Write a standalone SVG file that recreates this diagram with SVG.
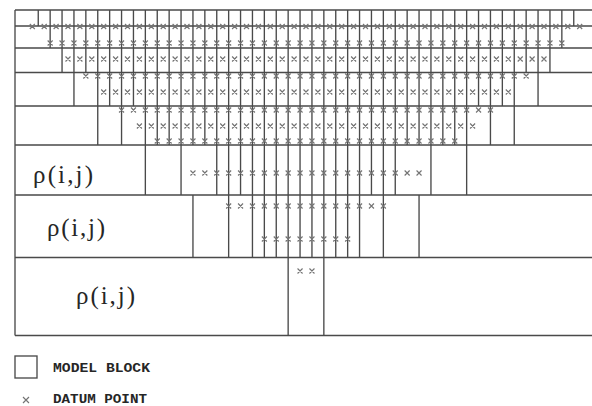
<svg xmlns="http://www.w3.org/2000/svg" width="592" height="406" viewBox="0 0 592 406">
<style>
.ln{fill:none;stroke:#4a4a4a;stroke-width:1.35}
.dp{fill:none;stroke:#747474;stroke-width:1.15}
.rho{font-family:"Liberation Serif","Times New Roman",serif;font-size:25px;fill:#262626}
.lg{font-family:"Liberation Mono","Courier New",monospace;font-size:12.5px;font-weight:bold;fill:#262626}
</style>
<rect width="592" height="406" fill="#ffffff"/>
<g id="grid" class="ln">
<path d="M15,10H592M15,26H592M15,48H592M15,72.5H592M15,106H592M15,145H592M15,195H592M15,257.5H592M15,335.5H592M15,10V335.5"/>
<path d="M38.25,10V26 M50.15,10V48 M62.05,10V72.5 M73.95,10V106 M85.85,10V72.5 M97.75,10V145 M109.65,10V106 M121.55,10V145 M133.45,10V106 M145.35,10V195 M157.25,10V145 M169.15,10V145 M181.05,10V195 M192.95,10V145 M192.95,195V257.5 M204.85,10V145 M216.75,10V195 M228.65,10V257.5 M240.55,10V195 M252.45,10V257.5 M264.35,10V257.5 M276.25,10V257.5 M288.15,10V335.5 M300.05,10V257.5 M311.95,10V257.5 M323.85,10V335.5 M335.75,10V257.5 M347.65,10V257.5 M359.55,10V257.5 M371.45,10V195 M383.35,10V257.5 M395.25,10V195 M407.15,10V145 M419.05,10V145 M419.05,195V257.5 M430.95,10V195 M442.85,10V145 M454.75,10V145 M466.65,10V195 M478.55,10V106 M490.45,10V145 M502.35,10V106 M514.25,10V145 M526.15,10V72.5 M538.05,10V106 M549.95,10V72.5 M561.85,10V48 M573.75,10V26"/>
</g>
<g id="datum-points" class="dp">
<path id="level1" d="M29.8,24
l5,5m0,-5l-5,5m11.9,-5 l5,5m0,-5l-5,5m11.9,-5 l5,5m0,-5l-5,5m11.9,-5 l5,5m0,-5l-5,5m11.9,-5 l5,5m0,-5l-5,5m11.9,-5
l5,5m0,-5l-5,5m11.9,-5 l5,5m0,-5l-5,5m11.9,-5 l5,5m0,-5l-5,5m11.9,-5 l5,5m0,-5l-5,5m11.9,-5 l5,5m0,-5l-5,5m11.9,-5
l5,5m0,-5l-5,5m11.9,-5 l5,5m0,-5l-5,5m11.9,-5 l5,5m0,-5l-5,5m11.9,-5 l5,5m0,-5l-5,5m11.9,-5 l5,5m0,-5l-5,5m11.9,-5
l5,5m0,-5l-5,5m11.9,-5 l5,5m0,-5l-5,5m11.9,-5 l5,5m0,-5l-5,5m11.9,-5 l5,5m0,-5l-5,5m11.9,-5 l5,5m0,-5l-5,5m11.9,-5
l5,5m0,-5l-5,5m11.9,-5 l5,5m0,-5l-5,5m11.9,-5 l5,5m0,-5l-5,5m11.9,-5 l5,5m0,-5l-5,5m11.9,-5 l5,5m0,-5l-5,5m11.9,-5
l5,5m0,-5l-5,5m11.9,-5 l5,5m0,-5l-5,5m11.9,-5 l5,5m0,-5l-5,5m11.9,-5 l5,5m0,-5l-5,5m11.9,-5 l5,5m0,-5l-5,5m11.9,-5
l5,5m0,-5l-5,5m11.9,-5 l5,5m0,-5l-5,5m11.9,-5 l5,5m0,-5l-5,5m11.9,-5 l5,5m0,-5l-5,5m11.9,-5 l5,5m0,-5l-5,5m11.9,-5
l5,5m0,-5l-5,5m11.9,-5 l5,5m0,-5l-5,5m11.9,-5 l5,5m0,-5l-5,5m11.9,-5 l5,5m0,-5l-5,5m11.9,-5 l5,5m0,-5l-5,5m11.9,-5
l5,5m0,-5l-5,5m11.9,-5 l5,5m0,-5l-5,5m11.9,-5 l5,5m0,-5l-5,5m11.9,-5 l5,5m0,-5l-5,5m11.9,-5 l5,5m0,-5l-5,5m11.9,-5
l5,5m0,-5l-5,5m11.9,-5 l5,5m0,-5l-5,5"/>
<path id="level2" d="M47.65,40.5
l5,5m0,-5l-5,5m11.9,-5 l5,5m0,-5l-5,5m11.9,-5 l5,5m0,-5l-5,5m11.9,-5 l5,5m0,-5l-5,5m11.9,-5 l5,5m0,-5l-5,5m11.9,-5
l5,5m0,-5l-5,5m11.9,-5 l5,5m0,-5l-5,5m11.9,-5 l5,5m0,-5l-5,5m11.9,-5 l5,5m0,-5l-5,5m11.9,-5 l5,5m0,-5l-5,5m11.9,-5
l5,5m0,-5l-5,5m11.9,-5 l5,5m0,-5l-5,5m11.9,-5 l5,5m0,-5l-5,5m11.9,-5 l5,5m0,-5l-5,5m11.9,-5 l5,5m0,-5l-5,5m11.9,-5
l5,5m0,-5l-5,5m11.9,-5 l5,5m0,-5l-5,5m11.9,-5 l5,5m0,-5l-5,5m11.9,-5 l5,5m0,-5l-5,5m11.9,-5 l5,5m0,-5l-5,5m11.9,-5
l5,5m0,-5l-5,5m11.9,-5 l5,5m0,-5l-5,5m11.9,-5 l5,5m0,-5l-5,5m11.9,-5 l5,5m0,-5l-5,5m11.9,-5 l5,5m0,-5l-5,5m11.9,-5
l5,5m0,-5l-5,5m11.9,-5 l5,5m0,-5l-5,5m11.9,-5 l5,5m0,-5l-5,5m11.9,-5 l5,5m0,-5l-5,5m11.9,-5 l5,5m0,-5l-5,5m11.9,-5
l5,5m0,-5l-5,5m11.9,-5 l5,5m0,-5l-5,5m11.9,-5 l5,5m0,-5l-5,5m11.9,-5 l5,5m0,-5l-5,5m11.9,-5 l5,5m0,-5l-5,5m11.9,-5
l5,5m0,-5l-5,5m11.9,-5 l5,5m0,-5l-5,5m11.9,-5 l5,5m0,-5l-5,5m11.9,-5 l5,5m0,-5l-5,5m11.9,-5 l5,5m0,-5l-5,5m11.9,-5
l5,5m0,-5l-5,5m11.9,-5 l5,5m0,-5l-5,5m11.9,-5 l5,5m0,-5l-5,5m11.9,-5 l5,5m0,-5l-5,5"/>
<path id="level3" d="M65.5,56.5
l5,5m0,-5l-5,5m11.9,-5 l5,5m0,-5l-5,5m11.9,-5 l5,5m0,-5l-5,5m11.9,-5 l5,5m0,-5l-5,5m11.9,-5 l5,5m0,-5l-5,5m11.9,-5
l5,5m0,-5l-5,5m11.9,-5 l5,5m0,-5l-5,5m11.9,-5 l5,5m0,-5l-5,5m11.9,-5 l5,5m0,-5l-5,5m11.9,-5 l5,5m0,-5l-5,5m11.9,-5
l5,5m0,-5l-5,5m11.9,-5 l5,5m0,-5l-5,5m11.9,-5 l5,5m0,-5l-5,5m11.9,-5 l5,5m0,-5l-5,5m11.9,-5 l5,5m0,-5l-5,5m11.9,-5
l5,5m0,-5l-5,5m11.9,-5 l5,5m0,-5l-5,5m11.9,-5 l5,5m0,-5l-5,5m11.9,-5 l5,5m0,-5l-5,5m11.9,-5 l5,5m0,-5l-5,5m11.9,-5
l5,5m0,-5l-5,5m11.9,-5 l5,5m0,-5l-5,5m11.9,-5 l5,5m0,-5l-5,5m11.9,-5 l5,5m0,-5l-5,5m11.9,-5 l5,5m0,-5l-5,5m11.9,-5
l5,5m0,-5l-5,5m11.9,-5 l5,5m0,-5l-5,5m11.9,-5 l5,5m0,-5l-5,5m11.9,-5 l5,5m0,-5l-5,5m11.9,-5 l5,5m0,-5l-5,5m11.9,-5
l5,5m0,-5l-5,5m11.9,-5 l5,5m0,-5l-5,5m11.9,-5 l5,5m0,-5l-5,5m11.9,-5 l5,5m0,-5l-5,5m11.9,-5 l5,5m0,-5l-5,5m11.9,-5
l5,5m0,-5l-5,5m11.9,-5 l5,5m0,-5l-5,5m11.9,-5 l5,5m0,-5l-5,5m11.9,-5 l5,5m0,-5l-5,5m11.9,-5 l5,5m0,-5l-5,5m11.9,-5
l5,5m0,-5l-5,5"/>
<path id="level4" d="M83.35,73.5
l5,5m0,-5l-5,5m11.9,-5 l5,5m0,-5l-5,5m11.9,-5 l5,5m0,-5l-5,5m11.9,-5 l5,5m0,-5l-5,5m11.9,-5 l5,5m0,-5l-5,5m11.9,-5
l5,5m0,-5l-5,5m11.9,-5 l5,5m0,-5l-5,5m11.9,-5 l5,5m0,-5l-5,5m11.9,-5 l5,5m0,-5l-5,5m11.9,-5 l5,5m0,-5l-5,5m11.9,-5
l5,5m0,-5l-5,5m11.9,-5 l5,5m0,-5l-5,5m11.9,-5 l5,5m0,-5l-5,5m11.9,-5 l5,5m0,-5l-5,5m11.9,-5 l5,5m0,-5l-5,5m11.9,-5
l5,5m0,-5l-5,5m11.9,-5 l5,5m0,-5l-5,5m11.9,-5 l5,5m0,-5l-5,5m11.9,-5 l5,5m0,-5l-5,5m11.9,-5 l5,5m0,-5l-5,5m11.9,-5
l5,5m0,-5l-5,5m11.9,-5 l5,5m0,-5l-5,5m11.9,-5 l5,5m0,-5l-5,5m11.9,-5 l5,5m0,-5l-5,5m11.9,-5 l5,5m0,-5l-5,5m11.9,-5
l5,5m0,-5l-5,5m11.9,-5 l5,5m0,-5l-5,5m11.9,-5 l5,5m0,-5l-5,5m11.9,-5 l5,5m0,-5l-5,5m11.9,-5 l5,5m0,-5l-5,5m11.9,-5
l5,5m0,-5l-5,5m11.9,-5 l5,5m0,-5l-5,5m11.9,-5 l5,5m0,-5l-5,5m11.9,-5 l5,5m0,-5l-5,5m11.9,-5 l5,5m0,-5l-5,5m11.9,-5
l5,5m0,-5l-5,5m11.9,-5 l5,5m0,-5l-5,5m11.9,-5 l5,5m0,-5l-5,5"/>
<path id="level5" d="M101.2,89.5
l5,5m0,-5l-5,5m11.9,-5 l5,5m0,-5l-5,5m11.9,-5 l5,5m0,-5l-5,5m11.9,-5 l5,5m0,-5l-5,5m11.9,-5 l5,5m0,-5l-5,5m11.9,-5
l5,5m0,-5l-5,5m11.9,-5 l5,5m0,-5l-5,5m11.9,-5 l5,5m0,-5l-5,5m11.9,-5 l5,5m0,-5l-5,5m11.9,-5 l5,5m0,-5l-5,5m11.9,-5
l5,5m0,-5l-5,5m11.9,-5 l5,5m0,-5l-5,5m11.9,-5 l5,5m0,-5l-5,5m11.9,-5 l5,5m0,-5l-5,5m11.9,-5 l5,5m0,-5l-5,5m11.9,-5
l5,5m0,-5l-5,5m11.9,-5 l5,5m0,-5l-5,5m11.9,-5 l5,5m0,-5l-5,5m11.9,-5 l5,5m0,-5l-5,5m11.9,-5 l5,5m0,-5l-5,5m11.9,-5
l5,5m0,-5l-5,5m11.9,-5 l5,5m0,-5l-5,5m11.9,-5 l5,5m0,-5l-5,5m11.9,-5 l5,5m0,-5l-5,5m11.9,-5 l5,5m0,-5l-5,5m11.9,-5
l5,5m0,-5l-5,5m11.9,-5 l5,5m0,-5l-5,5m11.9,-5 l5,5m0,-5l-5,5m11.9,-5 l5,5m0,-5l-5,5m11.9,-5 l5,5m0,-5l-5,5m11.9,-5
l5,5m0,-5l-5,5m11.9,-5 l5,5m0,-5l-5,5m11.9,-5 l5,5m0,-5l-5,5m11.9,-5 l5,5m0,-5l-5,5m11.9,-5 l5,5m0,-5l-5,5"/>
<path id="level6" d="M119.05,107.5
l5,5m0,-5l-5,5m11.9,-5 l5,5m0,-5l-5,5m11.9,-5 l5,5m0,-5l-5,5m11.9,-5 l5,5m0,-5l-5,5m11.9,-5 l5,5m0,-5l-5,5m11.9,-5
l5,5m0,-5l-5,5m11.9,-5 l5,5m0,-5l-5,5m11.9,-5 l5,5m0,-5l-5,5m11.9,-5 l5,5m0,-5l-5,5m11.9,-5 l5,5m0,-5l-5,5m11.9,-5
l5,5m0,-5l-5,5m11.9,-5 l5,5m0,-5l-5,5m11.9,-5 l5,5m0,-5l-5,5m11.9,-5 l5,5m0,-5l-5,5m11.9,-5 l5,5m0,-5l-5,5m11.9,-5
l5,5m0,-5l-5,5m11.9,-5 l5,5m0,-5l-5,5m11.9,-5 l5,5m0,-5l-5,5m11.9,-5 l5,5m0,-5l-5,5m11.9,-5 l5,5m0,-5l-5,5m11.9,-5
l5,5m0,-5l-5,5m11.9,-5 l5,5m0,-5l-5,5m11.9,-5 l5,5m0,-5l-5,5m11.9,-5 l5,5m0,-5l-5,5m11.9,-5 l5,5m0,-5l-5,5m11.9,-5
l5,5m0,-5l-5,5m11.9,-5 l5,5m0,-5l-5,5m11.9,-5 l5,5m0,-5l-5,5m11.9,-5 l5,5m0,-5l-5,5m11.9,-5 l5,5m0,-5l-5,5m11.9,-5
l5,5m0,-5l-5,5m11.9,-5 l5,5m0,-5l-5,5"/>
<path id="level7" d="M136.9,123.5
l5,5m0,-5l-5,5m11.9,-5 l5,5m0,-5l-5,5m11.9,-5 l5,5m0,-5l-5,5m11.9,-5 l5,5m0,-5l-5,5m11.9,-5 l5,5m0,-5l-5,5m11.9,-5
l5,5m0,-5l-5,5m11.9,-5 l5,5m0,-5l-5,5m11.9,-5 l5,5m0,-5l-5,5m11.9,-5 l5,5m0,-5l-5,5m11.9,-5 l5,5m0,-5l-5,5m11.9,-5
l5,5m0,-5l-5,5m11.9,-5 l5,5m0,-5l-5,5m11.9,-5 l5,5m0,-5l-5,5m11.9,-5 l5,5m0,-5l-5,5m11.9,-5 l5,5m0,-5l-5,5m11.9,-5
l5,5m0,-5l-5,5m11.9,-5 l5,5m0,-5l-5,5m11.9,-5 l5,5m0,-5l-5,5m11.9,-5 l5,5m0,-5l-5,5m11.9,-5 l5,5m0,-5l-5,5m11.9,-5
l5,5m0,-5l-5,5m11.9,-5 l5,5m0,-5l-5,5m11.9,-5 l5,5m0,-5l-5,5m11.9,-5 l5,5m0,-5l-5,5m11.9,-5 l5,5m0,-5l-5,5m11.9,-5
l5,5m0,-5l-5,5m11.9,-5 l5,5m0,-5l-5,5m11.9,-5 l5,5m0,-5l-5,5m11.9,-5 l5,5m0,-5l-5,5"/>
<path id="level8" d="M154.75,138.5
l5,5m0,-5l-5,5m11.9,-5 l5,5m0,-5l-5,5m11.9,-5 l5,5m0,-5l-5,5m11.9,-5 l5,5m0,-5l-5,5m11.9,-5 l5,5m0,-5l-5,5m11.9,-5
l5,5m0,-5l-5,5m11.9,-5 l5,5m0,-5l-5,5m11.9,-5 l5,5m0,-5l-5,5m11.9,-5 l5,5m0,-5l-5,5m11.9,-5 l5,5m0,-5l-5,5m11.9,-5
l5,5m0,-5l-5,5m11.9,-5 l5,5m0,-5l-5,5m11.9,-5 l5,5m0,-5l-5,5m11.9,-5 l5,5m0,-5l-5,5m11.9,-5 l5,5m0,-5l-5,5m11.9,-5
l5,5m0,-5l-5,5m11.9,-5 l5,5m0,-5l-5,5m11.9,-5 l5,5m0,-5l-5,5m11.9,-5 l5,5m0,-5l-5,5m11.9,-5 l5,5m0,-5l-5,5m11.9,-5
l5,5m0,-5l-5,5m11.9,-5 l5,5m0,-5l-5,5m11.9,-5 l5,5m0,-5l-5,5m11.9,-5 l5,5m0,-5l-5,5m11.9,-5 l5,5m0,-5l-5,5m11.9,-5
l5,5m0,-5l-5,5"/>
<path id="level10" d="M190.45,170.5
l5,5m0,-5l-5,5m11.9,-5 l5,5m0,-5l-5,5m11.9,-5 l5,5m0,-5l-5,5m11.9,-5 l5,5m0,-5l-5,5m11.9,-5 l5,5m0,-5l-5,5m11.9,-5
l5,5m0,-5l-5,5m11.9,-5 l5,5m0,-5l-5,5m11.9,-5 l5,5m0,-5l-5,5m11.9,-5 l5,5m0,-5l-5,5m11.9,-5 l5,5m0,-5l-5,5m11.9,-5
l5,5m0,-5l-5,5m11.9,-5 l5,5m0,-5l-5,5m11.9,-5 l5,5m0,-5l-5,5m11.9,-5 l5,5m0,-5l-5,5m11.9,-5 l5,5m0,-5l-5,5m11.9,-5
l5,5m0,-5l-5,5m11.9,-5 l5,5m0,-5l-5,5m11.9,-5 l5,5m0,-5l-5,5m11.9,-5 l5,5m0,-5l-5,5m11.9,-5 l5,5m0,-5l-5,5"/>
<path id="level12" d="M226.15,203.5
l5,5m0,-5l-5,5m11.9,-5 l5,5m0,-5l-5,5m11.9,-5 l5,5m0,-5l-5,5m11.9,-5 l5,5m0,-5l-5,5m11.9,-5 l5,5m0,-5l-5,5m11.9,-5
l5,5m0,-5l-5,5m11.9,-5 l5,5m0,-5l-5,5m11.9,-5 l5,5m0,-5l-5,5m11.9,-5 l5,5m0,-5l-5,5m11.9,-5 l5,5m0,-5l-5,5m11.9,-5
l5,5m0,-5l-5,5m11.9,-5 l5,5m0,-5l-5,5m11.9,-5 l5,5m0,-5l-5,5m11.9,-5 l5,5m0,-5l-5,5"/>
<path id="level14" d="M261.85,236.5
l5,5m0,-5l-5,5m11.9,-5 l5,5m0,-5l-5,5m11.9,-5 l5,5m0,-5l-5,5m11.9,-5 l5,5m0,-5l-5,5m11.9,-5 l5,5m0,-5l-5,5m11.9,-5
l5,5m0,-5l-5,5m11.9,-5 l5,5m0,-5l-5,5m11.9,-5 l5,5m0,-5l-5,5"/>
<path id="level16" d="M297.55,268.5 l5,5m0,-5l-5,5m11.9,-5 l5,5m0,-5l-5,5"/>
</g>
<g id="labels">
<text class="rho" x="33" y="183" textLength="60" lengthAdjust="spacing">ρ(i,j)</text>
<text class="rho" x="47" y="236" textLength="58" lengthAdjust="spacing">ρ(i,j)</text>
<text class="rho" x="76" y="304" textLength="59" lengthAdjust="spacing">ρ(i,j)</text>
</g>
<g id="legend">
<g id="legend-model-block">
<rect class="ln" x="15" y="356" width="22" height="22"/>
<text class="lg" x="53" y="372" textLength="97" lengthAdjust="spacingAndGlyphs">MODEL BLOCK</text>
</g>
<g id="legend-datum-point">
<path class="dp" d="M23,397l6,6m0,-6l-6,6"/>
<text class="lg" x="53" y="402.5" textLength="94" lengthAdjust="spacingAndGlyphs">DATUM POINT</text>
</g>
</g>
</svg>
